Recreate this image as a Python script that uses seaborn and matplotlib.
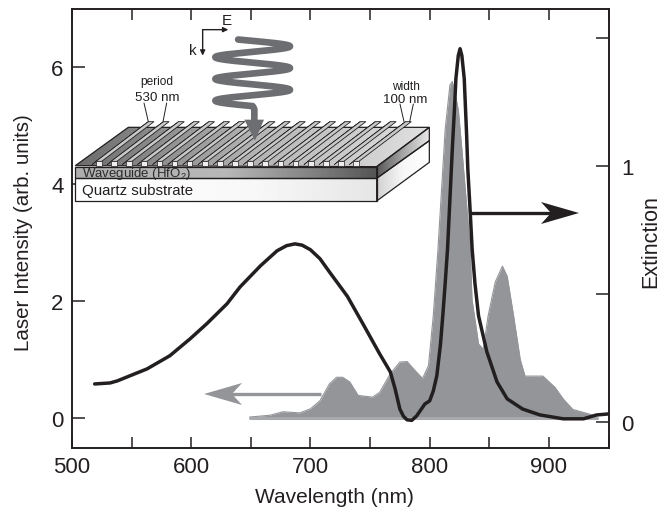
import numpy as np
import matplotlib
matplotlib.use("Agg")
import matplotlib.pyplot as plt
from matplotlib.patches import Polygon
import pandas as pd
import seaborn as sns

# Extinction curve (right axis)
ext_nm = [519, 532, 538, 563, 582, 599, 613, 630, 641, 658, 672, 680, 687, 693, 700, 708, 716, 731, 744, 758, 767, 771,
          775, 778, 781, 785, 789, 796, 800, 803, 806, 809, 811, 813, 815, 817, 819, 821, 822, 824, 825.5, 827, 829,
          831, 832, 834, 835.6, 838, 841, 848, 856.5, 865, 878, 892.6, 912, 929, 940, 950]
ext_val = [0.148, 0.152, 0.16, 0.207, 0.258, 0.324, 0.383, 0.461, 0.527, 0.609, 0.668, 0.688, 0.695, 0.69, 0.672, 0.637,
           0.585, 0.49, 0.383, 0.266, 0.195, 0.129, 0.05, 0.022, 0.008, 0.006, 0.023, 0.07, 0.082, 0.12, 0.18, 0.30,
           0.414, 0.54, 0.676, 0.87, 1.066, 1.24, 1.34, 1.43, 1.457, 1.43, 1.34, 1.12, 0.988, 0.82, 0.676, 0.54, 0.414,
           0.273, 0.156, 0.09, 0.05, 0.027, 0.012, 0.012, 0.027, 0.031]

# Laser spectrum (left axis)
las_nm = [649, 666, 677, 691, 700, 708, 716, 722, 727, 733, 740, 752, 758, 767, 775, 781, 788, 794, 799, 803, 807, 813,
          817, 819, 824, 827, 832, 834, 835.5, 841, 845, 849, 855, 861, 865, 870, 876, 880, 895, 905, 912, 920, 934, 940]
las_val = [0.02, 0.05, 0.11, 0.09, 0.16, 0.30, 0.59, 0.70, 0.70, 0.62, 0.39, 0.36, 0.44, 0.76, 0.96, 0.97, 0.81, 0.68,
           0.90, 1.75, 2.9, 4.94, 5.7, 5.76, 5.28, 4.6, 3.4, 2.9, 2.03, 1.27, 1.18, 1.75, 2.33, 2.6, 2.43, 1.8, 1.0,
           0.72, 0.72, 0.53, 0.33, 0.15, 0.07, 0.02]

x_major = [500, 600, 700, 800, 900]
x_all = [500, 550, 600, 650, 700, 750, 800, 850, 900, 950]
left_ticks = [0, 2, 4, 6]
right_major = [0, 1]
right_minor = [0.5, 1.5]

sns.set_theme(style="ticks")
plt.rcParams["font.family"] = ["Liberation Sans", "DejaVu Sans"]
plt.rcParams["mathtext.fontset"] = "custom"
plt.rcParams["mathtext.rm"] = "Liberation Sans"
W, H = 669, 510
INK = "#231f20"
GRAY = "#939598"

fig = plt.figure(figsize=(W / 100, H / 100), dpi=100, facecolor="white")
ax = fig.add_axes([72 / W, 1 - 449 / H, (608.5 - 72) / W, (449 - 10) / H])
ax2 = ax.twinx()

laser = pd.DataFrame({"nm": las_nm, "v": las_val})
ext = pd.DataFrame({"nm": ext_nm, "v": ext_val})
ax.fill_between(laser["nm"], 0, laser["v"], color=GRAY, lw=0)
sns.lineplot(data=laser, x="nm", y="v", ax=ax, color=GRAY, lw=0.8, errorbar=None)
ax.plot([649, 940], [0, 0], color="#a7a9ac", lw=2.2, solid_capstyle="round")
sns.lineplot(data=ext, x="nm", y="v", ax=ax2, color=INK, lw=2.5, errorbar=None)

ax.set_xlim(500, 950)
ax.set_ylim(-0.51, 7.0)
ax2.set_ylim(-0.102, 1.612)
ax.set_xticks(x_all)
ax.set_xticklabels([str(v) if v in x_major else "" for v in x_all])
ax.set_yticks(left_ticks)
ax2.set_yticks(right_major)
ax2.set_yticks(right_minor, minor=True)
ax.set_xlabel("Wavelength (nm)", fontsize=15, color=INK, va="center")
ax.set_ylabel("Laser Intensity (arb. units)", fontsize=14.8, color=INK, va="center")
ax2.set_ylabel("Extinction", fontsize=15.5, color=INK, va="center", rotation=90)
ax.xaxis.set_label_coords(334 / W, 1 - 498 / H, transform=fig.transFigure)
ax.yaxis.set_label_coords(24 / W, 1 - 233 / H, transform=fig.transFigure)
ax2.yaxis.set_label_coords(651 / W, 1 - 241.5 / H, transform=fig.transFigure)
ax.tick_params(axis="x", which="major", direction="in", top=True, length=8, width=1.1, labelsize=16,
               colors=INK, pad=6)
ax.tick_params(axis="y", direction="in", length=9.5, width=1.1, labelsize=16, colors=INK, pad=6)
ax2.tick_params(axis="y", which="major", direction="in", length=9.5, width=1.1, labelsize=16, colors=INK, pad=9)
ax2.tick_params(axis="y", which="minor", direction="in", length=9.5, width=1.1, colors=INK)
for a in (ax, ax2):
    for s in a.spines.values():
        s.set_visible(True)
        s.set_linewidth(1.2)
        s.set_color(INK)

# Schematic overlay in figure pixels
ov = fig.add_axes([0, 0, 1, 1], facecolor="none", zorder=5)
ov.set_xlim(0, W)
ov.set_ylim(H, 0)
ov.axis("off")


def z(pts):
    return [(60 + a / 3, b / 3) for a, b in pts]


def grad_poly(pts, stops, lw=0.9):
    pts = z(pts)
    xs = [p[0] for p in pts]
    ys = [p[1] for p in pts]
    g = np.interp(np.linspace(0, 1, 256), [s[0] for s in stops], [s[1] for s in stops])
    im = ov.imshow(g[None, :], cmap="gray", vmin=0, vmax=1, aspect="auto",
                   extent=[min(xs), max(xs), max(ys), min(ys)], zorder=2)
    p = Polygon(pts, closed=True, fc="none", ec="none", transform=ov.transData)
    ov.add_patch(p)
    im.set_clip_path(p)
    ov.add_patch(Polygon(pts, closed=True, fc="none", ec=INK, lw=lw, zorder=3))


grad_poly([(46, 500), (205, 385), (1108, 385), (950, 503)], [(0, 0.42), (0.5, 0.7), (1, 0.88)])
grad_poly([(46, 503), (950, 503), (950, 538), (46, 538)], [(0, 0.68), (0.5, 0.72), (0.8, 0.5), (1, 0.33)])
grad_poly([(46, 538), (950, 538), (950, 606), (46, 606)], [(0, 1), (0.6, 0.97), (1, 0.9)])
grad_poly([(950, 503), (1108, 385), (1108, 425), (950, 538)], [(0, 0.35), (0.5, 0.65), (1, 0.92)])
grad_poly([(950, 538), (1108, 425), (1108, 490), (950, 606)], [(0, 0.82), (0.5, 0.97), (1, 1)])
ov.set_xlim(0, W)
ov.set_ylim(H, 0)

# Grating ridges
for i in range(18):
    x0 = 108 + i * 45.4
    side = [(x0 - 12, 497), (x0, 487), (x0 + 157, 368), (x0 + 147, 375)]
    top = [(x0, 487), (x0 + 17, 487), (x0 + 174, 368), (x0 + 157, 368)]
    front = [(x0, 487), (x0 + 17, 487), (x0 + 17, 502), (x0, 502)]
    ov.add_patch(Polygon(z(side), fc="#4d4d4f", ec=INK, lw=0.4, zorder=4))
    ov.add_patch(Polygon(z(top), fc="#c8c9cb", ec=INK, lw=0.6, zorder=4))
    ov.add_patch(Polygon(z(front), fc="#eeeeee", ec=INK, lw=0.5, zorder=4))

# Incident wave
t = np.linspace(-0.4, 6 * np.pi, 500)
wx = 578 + 112 * np.sin(t)
wy = 142 + (t - np.pi / 2) * (305 - 142) / (5 * np.pi)
wave = z(list(zip(wx, wy)) + [(583, 330), (583, 368)])
ov.plot(*zip(*wave), color="#6d6e71", lw=4.8, solid_capstyle="round", solid_joinstyle="round", zorder=6)
ov.add_patch(Polygon(z([(553, 362), (612, 362), (585, 425)]), fc="#6d6e71", ec="none", zorder=6))

# Polarisation axes
ov.annotate("", xy=z([(505, 92)])[0], xytext=z([(428, 92)])[0], zorder=7,
            arrowprops=dict(arrowstyle="-|>,head_length=0.25,head_width=0.12", color=INK, lw=1.0, shrinkA=0, shrinkB=0))
ov.annotate("", xy=z([(428, 170)])[0], xytext=z([(428, 92)])[0], zorder=7,
            arrowprops=dict(arrowstyle="-|>,head_length=0.25,head_width=0.12", color=INK, lw=1.0, shrinkA=0, shrinkB=0))

# Leader lines
for a, b in [((252, 312), (265, 368)), ((320, 312), (309, 368)), ((1020, 315), (1032, 368)), ((1060, 315), (1049, 368))]:
    ov.plot(*zip(*z([a, b])), color=INK, lw=0.7, zorder=7)

txt = dict(color=INK, zorder=8, ha="center", va="center")
for s, p, fs in [("E", (500, 62), 11), ("k", (399, 153), 11), ("period", (290, 245), 8.6),
                 ("530 nm", (291, 294), 9.6), ("width", (1039, 260), 8.6), ("100 nm", (1036, 300), 9.6)]:
    ov.text(*z([p])[0], s, fontsize=fs, **txt)
ov.text(*z([(66, 522)])[0], r"Waveguide (HfO$_2$)", fontsize=9.5, color="#2b2b2b", ha="left", va="center", zorder=8)
ov.text(*z([(66, 574)])[0], "Quartz substrate", fontsize=10.8, color=INK, ha="left", va="center", zorder=8)


# Direction arrows: stem and swept-back head
def arrow(x_from, x_tip, y, color):
    d = 1 if x_tip > x_from else -1
    ov.plot([x_from, x_tip - d * 15], [y, y], color=color, lw=2.4, solid_capstyle="butt", zorder=7)
    ov.add_patch(Polygon([(x_tip, y), (x_tip - d * 38, y - 11), (x_tip - d * 28, y), (x_tip - d * 38, y + 11)],
                         fc=color, ec="none", zorder=7))


arrow(321, 204, 395, "#939598")
arrow(470, 579, 214, INK)

fig.savefig("out.png", dpi=100, facecolor="white")
